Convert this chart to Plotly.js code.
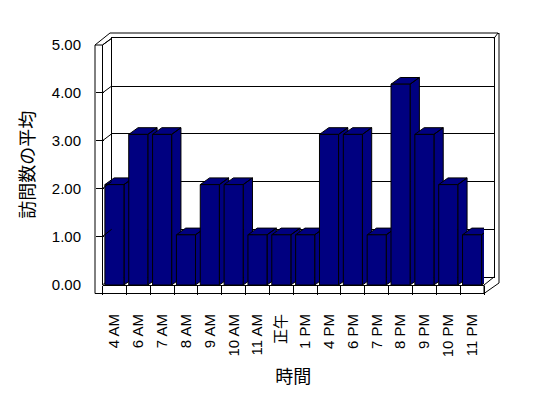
<!DOCTYPE html>
<html><head><meta charset="utf-8">
<script src="https://cdn.plot.ly/plotly-3.0.1.min.js"></script>
<style>html,body{margin:0;padding:0;background:#fff}</style>
</head><body><div id="chart" style="width:548px;height:398px"></div>
<script>
// ---- data ----
const hours = ['4 AM','6 AM','7 AM','8 AM','9 AM','10 AM','11 AM','正午','1 PM','4 PM','6 PM','7 PM','8 PM','9 PM','10 PM','11 PM'];
const avgVisits = [2,3,3,1,2,2,1,1,1,3,3,1,4,3,2,1];
const yTickVals = [0,1,2,3,4,5];
const yTitle = '訪問数の平均';
const xTitle = '時間';

// ---- geometry (pixels of the 548x398 canvas) ----
const W = 548, H = 398;
const px = x => x / W, py = y => 1 - y / H;
const G = {
  frontL: 95, frontR: 102.5, backL: 111.7, backR: 494, outerR: 499,
  frontTop: 45, frontZero: 284.3, backTop: 38.3, outerTop: 33,
  floorFront: 285, floorBottom: 293.5, floorBack: 277, floorR: 484,
  barTop: 34
};
const NAVY = '#000080';
const yMax = 5;
const barW = 0.8;
const catPx = (G.floorR - G.frontR) / hours.length;
const barPx = (G.floorFront - G.barTop) / yMax;
const dX = 9.3 / catPx, dY = 6.7 / barPx;

const LATIN = 'Liberation Sans, Arial, Noto Sans CJK JP, sans-serif';
const CJK = 'Noto Sans CJK JP, sans-serif';

// ---- traces ----
const traces = [];
// back wall subplot (grid)
traces.push({x: [], y: [], xaxis: 'x', yaxis: 'y', type: 'scatter', hoverinfo: 'skip', showlegend: false});
// front label axis subplot
traces.push({x: [], y: [], xaxis: 'x', yaxis: 'y2', type: 'scatter', hoverinfo: 'skip', showlegend: false});
// 3D top and side faces of each column
avgVisits.forEach((v, i) => {
  const L = i - barW / 2, R = i + barW / 2;
  traces.push({
    type: 'scatter', mode: 'lines', xaxis: 'x4', yaxis: 'y3',
    x: [L, L + dX, R + dX, R, L, null, R, R + dX, R + dX, R, R],
    y: [v, v + dY, v + dY, v, v, null, v, v + dY, dY, 0, v],
    fill: 'toself', fillcolor: NAVY, line: {color: '#000', width: 1},
    hoverinfo: 'skip', showlegend: false
  });
});
// front faces
traces.push({
  type: 'bar', x: hours, y: avgVisits, xaxis: 'x3', yaxis: 'y3', width: barW,
  marker: {color: NAVY, line: {color: '#000', width: 1}}, showlegend: false,
  hovertemplate: '%{x}: %{y:.2f}<extra></extra>'
});

// ---- frame lines ----
const shapes = [];
const seg = (x0, y0, x1, y1, layer) => shapes.push({type: 'line', xref: 'paper', yref: 'paper',
  x0: px(x0), y0: py(y0), x1: px(x1), y1: py(y1), line: {color: '#000', width: 1}, layer: layer || 'above'});
seg(G.frontL, G.frontTop, G.frontL, G.floorBottom);
seg(G.frontR, G.frontTop, G.frontR, G.floorFront);
seg(G.frontL, G.frontTop, G.frontR, G.frontTop);
seg(G.frontL, G.frontTop, G.backL - 1.7, G.outerTop);
seg(G.frontR, G.frontTop, G.backL, G.backTop);
seg(G.backL - 1.7, G.outerTop, G.outerR - 1, G.outerTop);
seg(G.backR, G.backTop, G.outerR - 1, G.outerTop);
seg(G.outerR - 1, G.outerTop, G.outerR, G.outerTop + 1);
seg(G.outerR, G.outerTop, G.outerR, 283);
seg(G.frontL, G.floorBottom, G.floorR, G.floorBottom);
seg(G.floorR, G.floorFront, G.floorR, G.floorBottom);
seg(G.floorR, G.floorFront, G.backR, G.floorBack);
seg(G.floorR, G.floorBottom, G.outerR, 283);
seg(G.frontR, G.floorFront, G.backL, G.floorBack, 'below');
// connectors from front ticks to back-wall gridlines
const frontPx = v => G.frontZero - v * (G.frontZero - G.frontTop) / yMax;
const backPx = v => G.floorBack - v * (G.floorBack - G.backTop) / yMax;
yTickVals.slice(1).forEach(v => seg(G.frontR, frontPx(v), G.backL, backPx(v)));

const layout = {
  width: W, height: H,
  margin: {l: 0, r: 0, t: 0, b: 0},
  paper_bgcolor: '#fff', plot_bgcolor: 'rgba(0,0,0,0)',
  showlegend: false,
  font: {family: LATIN, size: 15, color: '#000'},
  // back wall
  xaxis: {domain: [px(G.backL), px(G.backR)], range: [0, 1], showgrid: false, zeroline: false,
    showticklabels: false, ticks: '', showline: true, mirror: true, linecolor: '#000', linewidth: 1, anchor: 'y', fixedrange: true},
  yaxis: {domain: [py(G.floorBack), py(G.backTop)], range: [0, yMax], dtick: 1, showgrid: true, gridcolor: '#000', gridwidth: 1,
    zeroline: false, showticklabels: false, ticks: '', showline: true, mirror: true, linecolor: '#000', linewidth: 1, anchor: 'x', fixedrange: true},
  // front value axis (labels + ticks)
  yaxis2: {domain: [py(G.frontZero), py(G.frontTop)], range: [0, yMax], tickvals: yTickVals, tickformat: '.2f',
    anchor: 'free', position: px(G.frontL), showgrid: false, zeroline: false, showline: false,
    ticks: 'inside', ticklen: 7.5, tickcolor: '#000', tickwidth: 1, ticklabelstandoff: 14,
    tickfont: {family: LATIN, size: 15, color: '#000'},
    title: {text: yTitle, font: {family: CJK, size: 18, color: '#000'}, standoff: 11}, fixedrange: true},
  // columns
  yaxis3: {domain: [py(G.floorFront), py(G.barTop)], range: [0, yMax], visible: false, anchor: 'x4', fixedrange: true},
  xaxis4: {domain: [px(G.frontR), px(G.floorR)], range: [-0.5, hours.length - 0.5], visible: false, anchor: 'y3', fixedrange: true},
  xaxis3: {overlaying: 'x4', anchor: 'y3', side: 'bottom', type: 'category', range: [-0.5, hours.length - 0.5],
    domain: [px(G.frontR), px(G.floorR)], tickson: 'boundaries', ticks: 'outside', ticklen: 8.5, tickcolor: '#000', tickwidth: 1,
    showline: true, linecolor: '#000', linewidth: 1, showgrid: false, zeroline: false, tickangle: -90,
    ticklabelstandoff: 22, tickfont: {family: LATIN, size: 15, color: '#000'},
    title: {text: xTitle, font: {family: CJK, size: 18, color: '#000'}, standoff: 14}, fixedrange: true},
  shapes: shapes
};

Plotly.newPlot('chart', traces, layout, {displayModeBar: false, staticPlot: true});
</script>
</body></html>
